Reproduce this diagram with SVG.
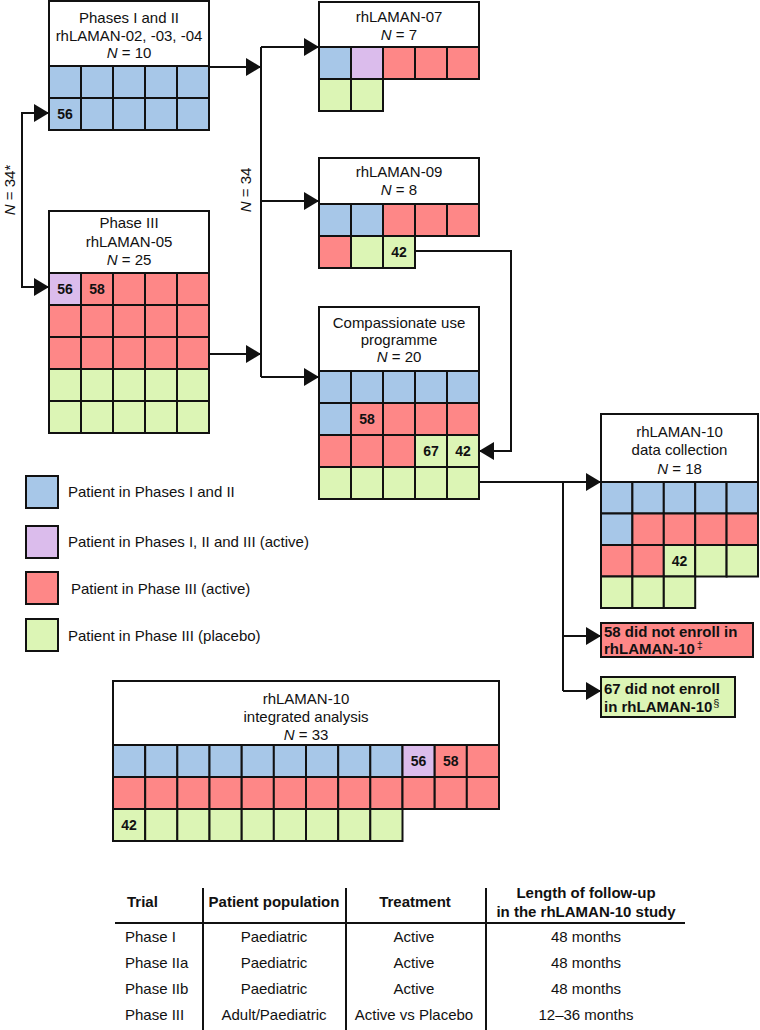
<svg xmlns="http://www.w3.org/2000/svg" width="760" height="1030" viewBox="0 0 760 1030">
<style>
text{font-family:"Liberation Sans",Arial,sans-serif;fill:#111}
.h{font-size:15px;text-anchor:middle}
.n{font-size:14px;font-weight:bold;text-anchor:middle}
.lg{font-size:15px}
.t{font-size:15px}
.tc{font-size:15px;text-anchor:middle}
.th{font-size:15px;font-weight:bold;text-anchor:middle}
.bx{font-size:15px;font-weight:bold}
rect{stroke:#111;stroke-width:2}
.hd{fill:#fff}
.b{fill:#a7c7e8}
.p{fill:#dbbcec}
.r{fill:#fe8787}
.g{fill:#dcf5b5}
.ln{fill:none;stroke:#111;stroke-width:2}
.tl{stroke:#111;stroke-width:2}
</style>
<defs>
<marker id="ah" markerUnits="userSpaceOnUse" markerWidth="16" markerHeight="18" refX="15" refY="9" orient="auto">
<path d="M0,0 L15,9 L0,18 z" fill="#111"/>
</marker>
<marker id="ahs" markerUnits="userSpaceOnUse" markerWidth="16" markerHeight="18" refX="15" refY="9" orient="auto-start-reverse">
<path d="M0,0 L15,9 L0,18 z" fill="#111"/>
</marker>
</defs>

<g id="connectors">
<path class="ln" d="M49,113 H22 V287 H49" marker-start="url(#ahs)" marker-end="url(#ah)"/>
<path class="ln" d="M209,67 H261" marker-end="url(#ah)"/>
<path class="ln" d="M209,354 H261" marker-end="url(#ah)"/>
<path class="ln" d="M261,47 V377"/>
<path class="ln" d="M261,47 H319" marker-end="url(#ah)"/>
<path class="ln" d="M261,201 H319" marker-end="url(#ah)"/>
<path class="ln" d="M261,377 H319" marker-end="url(#ah)"/>
<path class="ln" d="M415,251 H511 V451 H479" marker-end="url(#ah)"/>
<path class="ln" d="M479,482 H601" marker-end="url(#ah)"/>
<path class="ln" d="M563,482 V691"/>
<path class="ln" d="M563,636 H601" marker-end="url(#ah)"/>
<path class="ln" d="M563,691 H601" marker-end="url(#ah)"/>
<text class="h" transform="translate(15,190) rotate(-90)"><tspan font-style="italic">N</tspan> = 34*</text>
<text class="h" transform="translate(251,190) rotate(-90)"><tspan font-style="italic">N</tspan> = 34</text>
</g>

<g id="phases-1-2">
<rect class="hd" x="49" y="1" width="160" height="65"/>
<text class="h" x="129" y="23">Phases I and II</text>
<text class="h" x="129" y="41">rhLAMAN-02, -03, -04</text>
<text class="h" x="129" y="58"><tspan font-style="italic">N</tspan> = 10</text>
<rect class="b" x="49" y="66" width="32" height="32"/><rect class="b" x="81" y="66" width="32" height="32"/><rect class="b" x="113" y="66" width="32" height="32"/><rect class="b" x="145" y="66" width="32" height="32"/><rect class="b" x="177" y="66" width="32" height="32"/>
<rect class="b" x="49" y="98" width="32" height="32"/><rect class="b" x="81" y="98" width="32" height="32"/><rect class="b" x="113" y="98" width="32" height="32"/><rect class="b" x="145" y="98" width="32" height="32"/><rect class="b" x="177" y="98" width="32" height="32"/>
<text class="n" x="65" y="119">56</text>
</g>

<g id="phase-3">
<rect class="hd" x="49" y="211" width="160" height="62"/>
<text class="h" x="129" y="228">Phase III</text>
<text class="h" x="129" y="247">rhLAMAN-05</text>
<text class="h" x="129" y="265"><tspan font-style="italic">N</tspan> = 25</text>
<rect class="p" x="49" y="273" width="32" height="32"/><rect class="r" x="81" y="273" width="32" height="32"/><rect class="r" x="113" y="273" width="32" height="32"/><rect class="r" x="145" y="273" width="32" height="32"/><rect class="r" x="177" y="273" width="32" height="32"/>
<rect class="r" x="49" y="305" width="32" height="32"/><rect class="r" x="81" y="305" width="32" height="32"/><rect class="r" x="113" y="305" width="32" height="32"/><rect class="r" x="145" y="305" width="32" height="32"/><rect class="r" x="177" y="305" width="32" height="32"/>
<rect class="r" x="49" y="337" width="32" height="32"/><rect class="r" x="81" y="337" width="32" height="32"/><rect class="r" x="113" y="337" width="32" height="32"/><rect class="r" x="145" y="337" width="32" height="32"/><rect class="r" x="177" y="337" width="32" height="32"/>
<rect class="g" x="49" y="369" width="32" height="32"/><rect class="g" x="81" y="369" width="32" height="32"/><rect class="g" x="113" y="369" width="32" height="32"/><rect class="g" x="145" y="369" width="32" height="32"/><rect class="g" x="177" y="369" width="32" height="32"/>
<rect class="g" x="49" y="401" width="32" height="32"/><rect class="g" x="81" y="401" width="32" height="32"/><rect class="g" x="113" y="401" width="32" height="32"/><rect class="g" x="145" y="401" width="32" height="32"/><rect class="g" x="177" y="401" width="32" height="32"/>
<text class="n" x="65" y="294">56</text>
<text class="n" x="97" y="294">58</text>
</g>

<g id="rhlaman-07">
<rect class="hd" x="319" y="2" width="160" height="45"/>
<text class="h" x="399" y="22">rhLAMAN-07</text>
<text class="h" x="399" y="40"><tspan font-style="italic">N</tspan> = 7</text>
<rect class="b" x="319" y="47" width="32" height="32"/><rect class="p" x="351" y="47" width="32" height="32"/><rect class="r" x="383" y="47" width="32" height="32"/><rect class="r" x="415" y="47" width="32" height="32"/><rect class="r" x="447" y="47" width="32" height="32"/>
<rect class="g" x="319" y="79" width="32" height="32"/><rect class="g" x="351" y="79" width="32" height="32"/>
</g>

<g id="rhlaman-09">
<rect class="hd" x="319" y="158" width="160" height="46"/>
<text class="h" x="399" y="177">rhLAMAN-09</text>
<text class="h" x="399" y="195"><tspan font-style="italic">N</tspan> = 8</text>
<rect class="b" x="319" y="204" width="32" height="32"/><rect class="b" x="351" y="204" width="32" height="32"/><rect class="r" x="383" y="204" width="32" height="32"/><rect class="r" x="415" y="204" width="32" height="32"/><rect class="r" x="447" y="204" width="32" height="32"/>
<rect class="r" x="319" y="236" width="32" height="32"/><rect class="g" x="351" y="236" width="32" height="32"/><rect class="g" x="383" y="236" width="32" height="32"/>
<text class="n" x="399" y="257">42</text>
</g>

<g id="compassionate-use">
<rect class="hd" x="319" y="307" width="160" height="64"/>
<text class="h" x="399" y="328">Compassionate use</text>
<text class="h" x="399" y="345">programme</text>
<text class="h" x="399" y="362"><tspan font-style="italic">N</tspan> = 20</text>
<rect class="b" x="319" y="371" width="32" height="32"/><rect class="b" x="351" y="371" width="32" height="32"/><rect class="b" x="383" y="371" width="32" height="32"/><rect class="b" x="415" y="371" width="32" height="32"/><rect class="b" x="447" y="371" width="32" height="32"/>
<rect class="b" x="319" y="403" width="32" height="32"/><rect class="r" x="351" y="403" width="32" height="32"/><rect class="r" x="383" y="403" width="32" height="32"/><rect class="r" x="415" y="403" width="32" height="32"/><rect class="r" x="447" y="403" width="32" height="32"/>
<rect class="r" x="319" y="435" width="32" height="32"/><rect class="r" x="351" y="435" width="32" height="32"/><rect class="r" x="383" y="435" width="32" height="32"/><rect class="g" x="415" y="435" width="32" height="32"/><rect class="g" x="447" y="435" width="32" height="32"/>
<rect class="g" x="319" y="467" width="32" height="32"/><rect class="g" x="351" y="467" width="32" height="32"/><rect class="g" x="383" y="467" width="32" height="32"/><rect class="g" x="415" y="467" width="32" height="32"/><rect class="g" x="447" y="467" width="32" height="32"/>
<text class="n" x="367" y="424">58</text>
<text class="n" x="431" y="456">67</text>
<text class="n" x="463" y="456">42</text>
</g>

<g id="data-collection">
<rect class="hd" x="601" y="414" width="157" height="68"/>
<text class="h" x="679.5" y="437">rhLAMAN-10</text>
<text class="h" x="679.5" y="455">data collection</text>
<text class="h" x="679.5" y="474"><tspan font-style="italic">N</tspan> = 18</text>
<rect class="b" x="601" y="482" width="31.4" height="31.5"/><rect class="b" x="632.4" y="482" width="31.4" height="31.5"/><rect class="b" x="663.8" y="482" width="31.4" height="31.5"/><rect class="b" x="695.2" y="482" width="31.4" height="31.5"/><rect class="b" x="726.6" y="482" width="31.4" height="31.5"/>
<rect class="b" x="601" y="513.5" width="31.4" height="31.5"/><rect class="r" x="632.4" y="513.5" width="31.4" height="31.5"/><rect class="r" x="663.8" y="513.5" width="31.4" height="31.5"/><rect class="r" x="695.2" y="513.5" width="31.4" height="31.5"/><rect class="r" x="726.6" y="513.5" width="31.4" height="31.5"/>
<rect class="r" x="601" y="545" width="31.4" height="31.5"/><rect class="r" x="632.4" y="545" width="31.4" height="31.5"/><rect class="g" x="663.8" y="545" width="31.4" height="31.5"/><rect class="g" x="695.2" y="545" width="31.4" height="31.5"/><rect class="g" x="726.6" y="545" width="31.4" height="31.5"/>
<rect class="g" x="601" y="576.5" width="31.4" height="31.5"/><rect class="g" x="632.4" y="576.5" width="31.4" height="31.5"/><rect class="g" x="663.8" y="576.5" width="31.4" height="31.5"/>
<text class="n" x="679.5" y="566">42</text>
</g>

<g id="not-enrolled-58">
<rect class="r" x="601" y="623" width="152" height="34"/>
<text class="bx" x="604" y="637">58 did not enroll in</text>
<text class="bx" x="604" y="654">rhLAMAN-10<tspan font-size="11" font-weight="normal" dx="2" dy="-5">‡</tspan></text>
</g>

<g id="not-enrolled-67">
<rect class="g" x="601" y="677" width="134" height="40"/>
<text class="bx" x="604" y="694">67 did not enroll</text>
<text class="bx" x="604" y="712">in rhLAMAN-10<tspan font-size="11" font-weight="normal" dx="1" dy="-5">§</tspan></text>
</g>

<g id="legend">
<rect class="b" x="26" y="476" width="32" height="32"/>
<text class="lg" x="68" y="497">Patient in Phases I and II</text>
<rect class="p" x="26" y="526" width="32" height="32"/>
<text class="lg" x="68" y="547">Patient in Phases I, II and III (active)</text>
<rect class="r" x="26" y="572" width="32" height="32"/>
<text class="lg" x="71" y="594">Patient in Phase III (active)</text>
<rect class="g" x="26" y="619" width="32" height="32"/>
<text class="lg" x="68" y="641">Patient in Phase III (placebo)</text>
</g>

<g id="integrated-analysis">
<rect class="hd" x="113" y="681" width="386" height="64"/>
<text class="h" x="306" y="704">rhLAMAN-10</text>
<text class="h" x="306" y="722">integrated analysis</text>
<text class="h" x="306" y="740"><tspan font-style="italic">N</tspan> = 33</text>
<rect class="b" x="113" y="745" width="32.2" height="32"/><rect class="b" x="145.2" y="745" width="32.2" height="32"/><rect class="b" x="177.3" y="745" width="32.2" height="32"/><rect class="b" x="209.5" y="745" width="32.2" height="32"/><rect class="b" x="241.7" y="745" width="32.2" height="32"/><rect class="b" x="273.8" y="745" width="32.2" height="32"/><rect class="b" x="306" y="745" width="32.2" height="32"/><rect class="b" x="338.2" y="745" width="32.2" height="32"/><rect class="b" x="370.3" y="745" width="32.2" height="32"/><rect class="p" x="402.5" y="745" width="32.2" height="32"/><rect class="r" x="434.7" y="745" width="32.2" height="32"/><rect class="r" x="466.8" y="745" width="32.2" height="32"/>
<rect class="r" x="113" y="777" width="32.2" height="32"/><rect class="r" x="145.2" y="777" width="32.2" height="32"/><rect class="r" x="177.3" y="777" width="32.2" height="32"/><rect class="r" x="209.5" y="777" width="32.2" height="32"/><rect class="r" x="241.7" y="777" width="32.2" height="32"/><rect class="r" x="273.8" y="777" width="32.2" height="32"/><rect class="r" x="306" y="777" width="32.2" height="32"/><rect class="r" x="338.2" y="777" width="32.2" height="32"/><rect class="r" x="370.3" y="777" width="32.2" height="32"/><rect class="r" x="402.5" y="777" width="32.2" height="32"/><rect class="r" x="434.7" y="777" width="32.2" height="32"/><rect class="r" x="466.8" y="777" width="32.2" height="32"/>
<rect class="g" x="113" y="809" width="32.2" height="32"/><rect class="g" x="145.2" y="809" width="32.2" height="32"/><rect class="g" x="177.3" y="809" width="32.2" height="32"/><rect class="g" x="209.5" y="809" width="32.2" height="32"/><rect class="g" x="241.7" y="809" width="32.2" height="32"/><rect class="g" x="273.8" y="809" width="32.2" height="32"/><rect class="g" x="306" y="809" width="32.2" height="32"/><rect class="g" x="338.2" y="809" width="32.2" height="32"/><rect class="g" x="370.3" y="809" width="32.2" height="32"/>
<text class="n" x="418.6" y="766">56</text>
<text class="n" x="450.8" y="766">58</text>
<text class="n" x="129.1" y="830">42</text>
</g>

<g id="table">
<line class="tl" x1="115" y1="923" x2="685" y2="923" stroke-width="2.5"/>
<line class="tl" x1="203" y1="888" x2="203" y2="1030"/>
<line class="tl" x1="346" y1="888" x2="346" y2="1030"/>
<line class="tl" x1="486" y1="888" x2="486" y2="1030"/>
<text class="th" x="127" y="907" style="text-anchor:start">Trial</text>
<text class="th" x="274" y="907">Patient population</text>
<text class="th" x="415" y="907">Treatment</text>
<text class="th" x="586" y="898">Length of follow-up</text>
<text class="th" x="586" y="917">in the rhLAMAN-10 study</text>
<text class="t" x="125" y="942">Phase I</text>
<text class="t" x="125" y="968">Phase IIa</text>
<text class="t" x="125" y="994">Phase IIb</text>
<text class="t" x="125" y="1020">Phase III</text>
<text class="tc" x="274" y="942">Paediatric</text>
<text class="tc" x="274" y="968">Paediatric</text>
<text class="tc" x="274" y="994">Paediatric</text>
<text class="tc" x="274" y="1020">Adult/Paediatric</text>
<text class="tc" x="414" y="942">Active</text>
<text class="tc" x="414" y="968">Active</text>
<text class="tc" x="414" y="994">Active</text>
<text class="tc" x="414" y="1020">Active vs Placebo</text>
<text class="tc" x="586" y="942">48 months</text>
<text class="tc" x="586" y="968">48 months</text>
<text class="tc" x="586" y="994">48 months</text>
<text class="tc" x="586" y="1020">12–36 months</text>
</g>
</svg>
